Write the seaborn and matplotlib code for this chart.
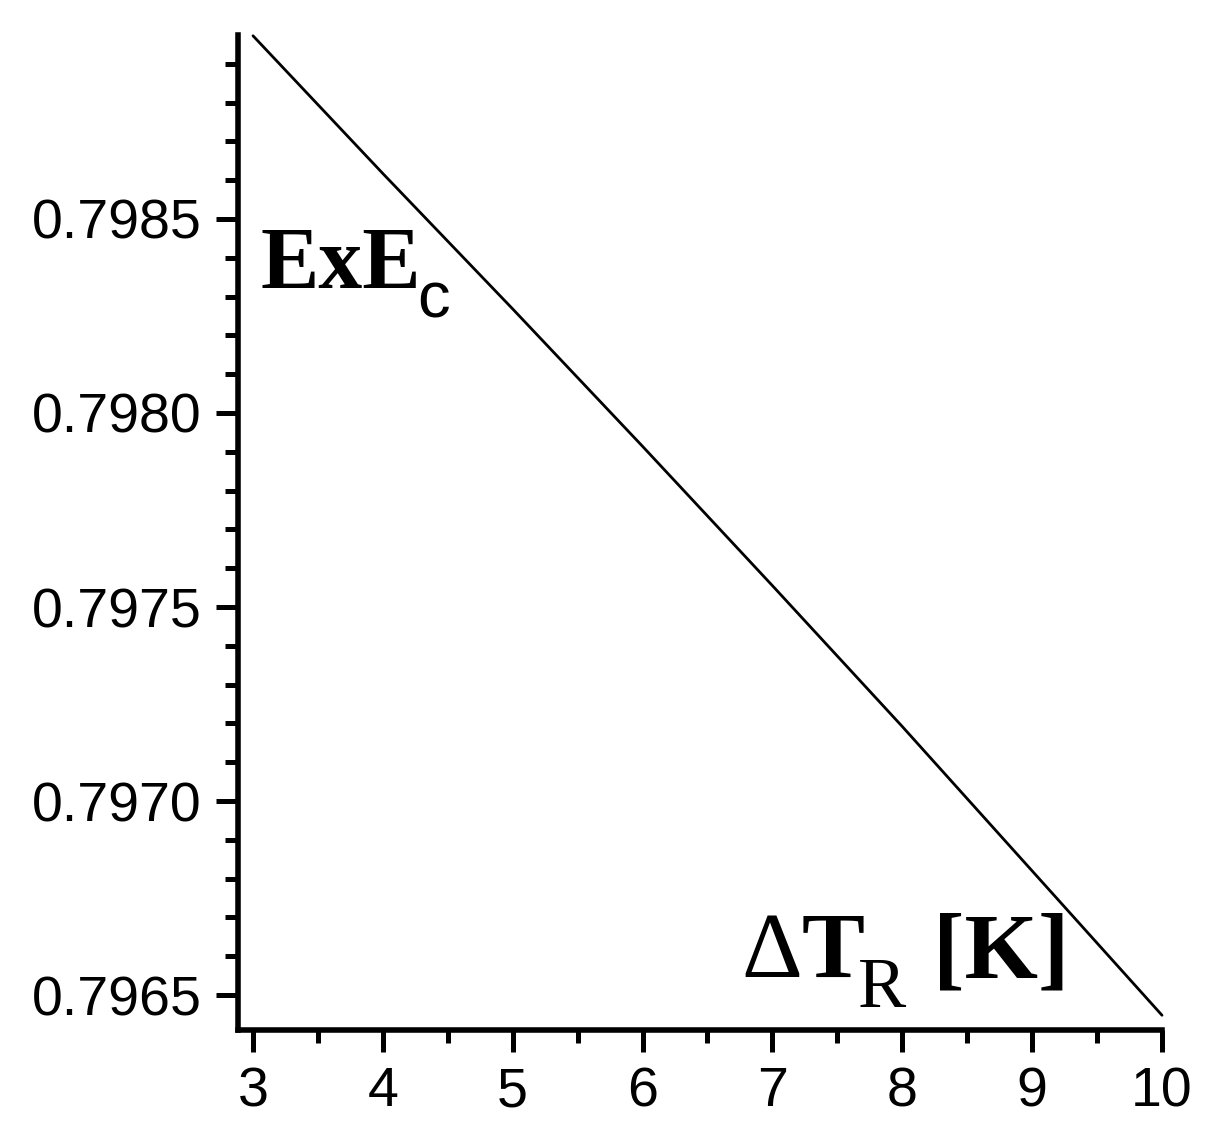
import numpy as np
import pandas as pd
import matplotlib
matplotlib.use("Agg")
import matplotlib.pyplot as plt
from matplotlib.ticker import MultipleLocator, FormatStrFormatter
import seaborn as sns

# values
DELTA_T = [3, 4, 5, 6, 7, 8, 9, 10]
EXE_C = [0.798972, 0.798617, 0.798268, 0.797914, 0.797555, 0.797192, 0.796820, 0.796448]

X_TICKS = [3, 4, 5, 6, 7, 8, 9, 10]
Y_TICKS = [0.7965, 0.7970, 0.7975, 0.7980, 0.7985]

W, H = 1205, 1139
SERIF = ["Liberation Serif", "DejaVu Serif"]

sns.set_style("ticks")
plt.rcParams["font.family"] = ["Liberation Sans", "DejaVu Sans"]
plt.rcParams["text.color"] = "black"
plt.rcParams["xtick.color"] = "black"
plt.rcParams["ytick.color"] = "black"

df = pd.DataFrame({"dT": DELTA_T, "exe": EXE_C})

fig = plt.figure(figsize=(W / 100, H / 100), dpi=100)
ax = fig.add_axes([238 / W, 1 - 1030 / H, (1162 - 238) / W, (1030 - 35) / H])

sns.lineplot(data=df, x="dT", y="exe", ax=ax, color="black", linewidth=2.0)
for ln in ax.lines:
    ln.set_clip_on(False)

ax.set_xlim(2.8845, 10)
ax.set_ylim(0.79641, 0.798974)
ax.set_xticks(X_TICKS)
ax.set_yticks(Y_TICKS)
ax.xaxis.set_minor_locator(MultipleLocator(0.5))
ax.yaxis.set_minor_locator(MultipleLocator(0.0001))
ax.yaxis.set_major_formatter(FormatStrFormatter("%.4f"))
ax.set_xlabel("")
ax.set_ylabel("")

sns.despine(ax=ax)
for s in ["left", "bottom"]:
    ax.spines[s].set_linewidth(4.0)
    ax.spines[s].set_color("black")

ax.tick_params(which="major", length=16, width=3.6, color="black",
               labelcolor="black", labelsize=40, pad=10)
ax.tick_params(which="minor", length=9.5, width=3.6, color="black")

# axis annotations
fig.text(260 / W, 1 - 288 / H, "ExE", family=SERIF,
         fontweight="bold", fontsize=63, ha="left", va="baseline")
fig.text(417 / W, 1 - 317 / H, "c", fontsize=47, ha="left", va="baseline")

fig.text(741 / W, 1 - 977 / H, "Δ", family=SERIF,
         fontsize=68, ha="left", va="baseline")
fig.text(802 / W, 1 - 977 / H, "T", family=SERIF,
         fontweight="bold", fontsize=68, ha="left", va="baseline")
fig.text(858 / W, 1 - 1007 / H, "R", family=SERIF,
         fontsize=52, ha="left", va="baseline")
fig.text(933 / W, 1 - 977 / H, "[K]", family=SERIF,
         fontweight="bold", fontsize=68, ha="left", va="baseline")

fig.savefig("out.png", dpi=100, facecolor="white")
